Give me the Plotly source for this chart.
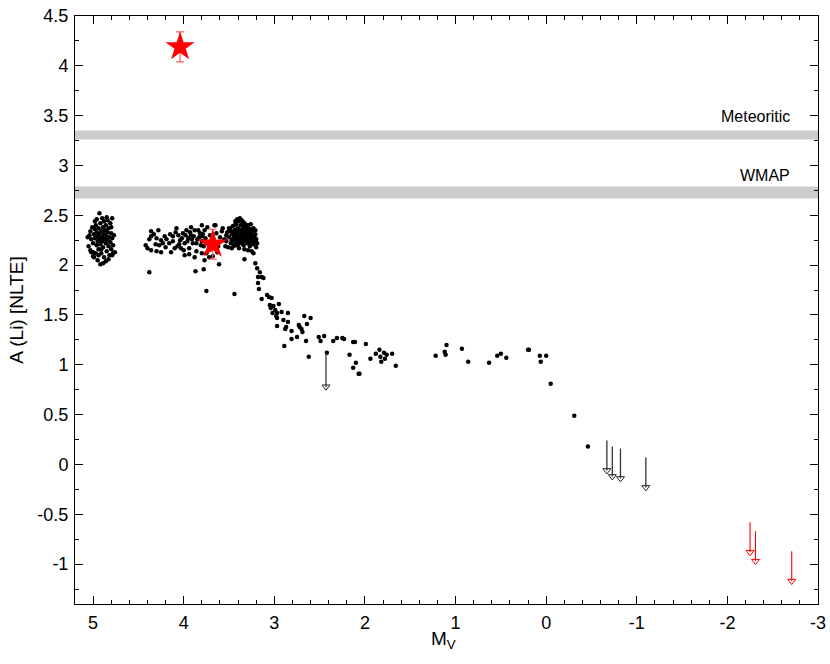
from __future__ import annotations

import plotly.graph_objects as go


# --- bands (A(Li) low/high) ---
METEORITIC_BAND = (3.26, 3.35)
WMAP_BAND = (2.67, 2.79)

# --- subgiant clump, left (M_V ~ 4.8-5.05) ---
LEFT_MV = [4.93, 4.92, 4.84, 5.00, 4.79, 4.81, 5.04, 5.02, 5.03, 5.01, 5.00, 4.99, 4.98, 4.98,
           4.97, 4.96, 4.96, 4.95, 4.95, 4.94, 4.94, 4.93, 4.93, 4.92, 4.92, 4.91, 4.91, 4.90,
           4.90, 4.89, 4.89, 4.88, 4.88, 4.87, 4.87, 4.86, 4.86, 4.85, 4.85, 4.84, 4.84, 4.83,
           4.83, 4.82, 4.82, 4.81, 4.80, 4.80, 4.79, 4.78, 4.77, 4.78, 5.05, 5.03, 4.99, 4.97,
           4.95, 4.91, 4.88, 4.86, 4.83, 4.80, 4.76, 5.06, 4.98, 4.96, 4.90, 4.85, 4.94, 4.89,
           5.02, 5.00, 4.79]
LEFT_ALI = [2.52, 2.01, 2.45, 2.13, 2.47, 2.42, 2.30, 2.26, 2.34, 2.38, 2.22, 2.31, 2.27, 2.36,
            2.40, 2.33, 2.20, 2.24, 2.29, 2.37, 2.16, 2.31, 2.26, 2.42, 2.21, 2.34, 2.12, 2.28,
            2.24, 2.38, 2.18, 2.31, 2.08, 2.26, 2.35, 2.22, 2.40, 2.29, 2.14, 2.33, 2.25, 2.19,
            2.37, 2.28, 2.10, 2.23, 2.32, 2.16, 2.27, 2.20, 2.30, 2.12, 2.19, 2.15, 2.08, 2.12,
            2.05, 2.16, 2.44, 2.04, 2.06, 2.38, 2.13, 2.28, 2.44, 2.46, 2.47, 2.48, 2.10, 2.02,
            2.13, 2.09, 2.10]

# --- plateau band (M_V ~ 3.55-4.4) ---
BAND_MV = [4.36, 4.28, 4.36, 4.30, 4.25, 4.23, 4.21, 4.40, 4.36, 4.30, 4.25, 4.16, 4.14, 4.10,
           4.08, 4.06, 4.04, 4.01, 3.99, 3.97, 3.95, 3.92, 3.90, 3.88, 3.85, 3.82, 3.81, 3.99,
           3.94, 3.88, 4.12, 4.07, 4.03, 3.94, 3.80, 3.77, 3.80, 3.78, 3.80, 3.77, 3.65, 3.58,
           3.56, 3.54, 3.53, 3.50, 3.47, 3.45, 3.42, 4.33, 4.27, 4.19, 4.15, 4.12, 4.09, 4.05,
           4.02, 3.98, 3.96, 3.93, 3.91, 3.89, 3.86, 3.84, 3.83, 3.80, 3.79, 3.76, 3.74, 3.73,
           3.71, 3.70, 3.64, 3.62, 3.60, 3.57, 3.55, 3.86, 3.75, 3.72, 4.00, 4.20, 4.31, 4.42,
           4.38, 3.92, 3.66, 3.68, 3.63]
BAND_ALI = [2.34, 2.35, 2.29, 2.27, 2.25, 2.22, 2.29, 2.17, 2.15, 2.14, 2.13, 2.22, 2.13, 2.17,
            2.37, 2.30, 2.25, 2.32, 2.22, 2.35, 2.27, 2.30, 2.22, 2.35, 2.26, 2.32, 2.20, 2.10,
            2.11, 2.08, 2.29, 2.19, 2.17, 2.17, 2.40, 2.35, 2.29, 2.19, 2.12, 2.05, 2.40, 2.34,
            2.25, 2.19, 2.30, 2.37, 2.25, 2.32, 2.20, 2.31, 2.20, 2.26, 2.31, 2.24, 2.33, 2.21,
            2.27, 2.30, 2.24, 2.33, 2.26, 2.29, 2.22, 2.35, 2.28, 2.24, 2.31, 2.27, 2.38, 2.21,
            2.30, 2.16, 2.32, 2.19, 2.28, 2.37, 2.26, 2.14, 2.12, 2.08, 2.15, 2.18, 2.21, 2.20,
            2.26, 2.38, 2.40, 2.09, 2.13]

# --- turn-off clump (M_V ~ 3.2-3.55) ---
TURN_MV = [3.53, 3.52, 3.51, 3.50, 3.49, 3.48, 3.47, 3.46, 3.46, 3.45, 3.44, 3.44, 3.43, 3.42,
           3.42, 3.41, 3.40, 3.40, 3.39, 3.39, 3.38, 3.38, 3.37, 3.37, 3.36, 3.36, 3.35, 3.35,
           3.34, 3.34, 3.33, 3.33, 3.32, 3.32, 3.31, 3.31, 3.30, 3.30, 3.29, 3.29, 3.28, 3.28,
           3.27, 3.27, 3.26, 3.26, 3.25, 3.24, 3.24, 3.23, 3.22, 3.22, 3.21, 3.20, 3.20, 3.19,
           3.41, 3.38, 3.36, 3.35, 3.43, 3.40, 3.37, 3.34, 3.32, 3.31, 3.44, 3.47, 3.39, 3.33,
           3.29, 3.25, 3.48, 3.45, 3.42, 3.39, 3.36, 3.33, 3.30, 3.27, 3.35, 3.38, 3.41, 3.44,
           3.29, 3.26, 3.23, 3.21]
TURN_ALI = [2.24, 2.33, 2.18, 2.28, 2.36, 2.22, 2.31, 2.26, 2.39, 2.19, 2.29, 2.35, 2.24, 2.32,
            2.41, 2.27, 2.21, 2.37, 2.30, 2.44, 2.25, 2.34, 2.28, 2.40, 2.22, 2.31, 2.36, 2.26,
            2.43, 2.20, 2.29, 2.33, 2.38, 2.24, 2.27, 2.31, 2.35, 2.22, 2.29, 2.40, 2.25, 2.33,
            2.19, 2.28, 2.36, 2.23, 2.30, 2.26, 2.34, 2.21, 2.29, 2.24, 2.31, 2.26, 2.18, 2.22,
            2.46, 2.47, 2.45, 2.41, 2.44, 2.34, 2.35, 2.38, 2.41, 2.36, 2.21, 2.17, 2.17, 2.16,
            2.15, 2.14, 2.34, 2.32, 2.28, 2.24, 2.27, 2.25, 2.28, 2.32, 2.30, 2.29, 2.36, 2.40,
            2.37, 2.41, 2.37, 2.35]

# --- Li dilution and giants ---
DROP_MV = [3.78, 3.75, 3.61, 3.44, 3.87, 4.38, 3.33, 3.23, 3.21, 3.19, 3.16, 3.18, 3.12, 3.18,
           3.17, 3.14, 3.08, 3.03, 3.06, 3.05, 3.04, 2.99, 2.95, 3.02, 2.97, 2.92, 2.85, 2.97,
           2.90, 2.85, 2.97, 2.87, 2.81, 2.73, 2.72, 2.70, 2.67, 2.60, 2.64, 2.69, 2.81, 2.75,
           2.65, 2.89, 2.62, 2.51, 2.49, 2.45, 2.42, 2.35, 2.31, 2.25, 2.23, 2.17, 2.13, 2.11,
           2.10, 2.13, 2.07, 2.06, 1.99, 1.94, 1.88, 1.84, 1.83, 1.82, 1.79, 1.78, 1.76, 1.70,
           1.66, 1.22, 1.12, 1.10, 1.11, 0.93, 0.86, 0.63, 0.54, 0.50, 0.44, 0.20, 0.19, 0.07,
           0.00, 0.06, -0.05, -0.31, -0.46, 3.14, 3.01, 2.98, 2.88]
DROP_ALI = [1.96, 1.74, 2.01, 1.71, 1.94, 1.93, 2.06, 2.12, 2.02, 1.97, 1.93, 1.88, 1.87, 1.82,
            1.76, 1.66, 1.70, 1.67, 1.68, 1.60, 1.57, 1.55, 1.61, 1.52, 1.52, 1.53, 1.52, 1.47,
            1.45, 1.43, 1.39, 1.38, 1.34, 1.40, 1.38, 1.36, 1.49, 1.47, 1.41, 1.33, 1.26, 1.28,
            1.24, 1.19, 1.08, 1.28, 1.24, 1.29, 1.12, 1.24, 1.27, 1.27, 1.26, 1.10, 1.23, 1.23,
            1.02, 0.97, 0.91, 0.91, 1.21, 1.06, 1.11, 1.15, 1.08, 1.03, 1.12, 1.06, 1.10, 1.11,
            0.99, 1.09, 1.13, 1.20, 1.10, 1.16, 1.03, 1.02, 1.09, 1.11, 1.07, 1.15, 1.15, 1.09,
            1.09, 1.03, 0.81, 0.49, 0.18, 1.88, 1.59, 1.49, 1.36]

# --- upper limits: start of arrow and limit value ---
BLACK_LIM_MV = [2.43, -0.67, -0.73, -0.82, -1.10]
BLACK_LIM_TOP = [1.12, 0.24, 0.18, 0.16, 0.07]
BLACK_LIM_VAL = [0.78, -0.06, -0.12, -0.14, -0.23]
RED_LIM_MV = [-2.25, -2.31, -2.71]
RED_LIM_TOP = [-0.58, -0.67, -0.87]
RED_LIM_VAL = [-0.88, -0.97, -1.17]

# --- highlighted stars ---
STAR_MV = [4.04, 3.68]
STAR_ALI = [4.19, 2.21]
STAR_ERR = [0.15, 0.15]

X_TICKS = [5, 4, 3, 2, 1, 0, -1, -2, -3]
X_LABELS = ["5", "4", "3", "2", "1", "0", "-1", "-2", "-3"]
Y_TICKS = [-1, -0.5, 0, 0.5, 1, 1.5, 2, 2.5, 3, 3.5, 4, 4.5]
Y_LABELS = ["-1", "-0.5", "0", "0.5", "1", "1.5", "2", "2.5", "3", "3.5", "4", "4.5"]

FONT = "Liberation Sans, Arial, Helvetica, sans-serif"


def _segments(xs, y0s, y1s):
    sx, sy = [], []
    for x, a, b in zip(xs, y0s, y1s):
        sx += [x, x, None]
        sy += [a, b, None]
    return sx, sy


fig = go.Figure()

for lo, hi in (METEORITIC_BAND, WMAP_BAND):
    fig.add_shape(type="rect", xref="paper", x0=0, x1=1, yref="y", y0=lo, y1=hi,
                  fillcolor="#cccccc", line_width=0, layer="below")

fig.add_annotation(x=-2.71, y=3.49, text="Meteoritic", showarrow=False, xanchor="right",
                   font=dict(size=16, color="black", family=FONT))
fig.add_annotation(x=-2.71, y=2.90, text="WMAP", showarrow=False, xanchor="right",
                   font=dict(size=16, color="black", family=FONT))
fig.add_annotation(x=0.496, xref="paper", y=-0.037, yref="paper", text="M<sub>V</sub>",
                   showarrow=False, yanchor="top",
                   font=dict(size=19, color="black", family=FONT))

for xs, ys in ((LEFT_MV, LEFT_ALI), (BAND_MV, BAND_ALI), (TURN_MV, TURN_ALI), (DROP_MV, DROP_ALI)):
    fig.add_trace(go.Scatter(x=xs, y=ys, mode="markers",
                             marker=dict(color="black", size=4.5, line_width=0)))

bx, by = _segments(BLACK_LIM_MV, BLACK_LIM_TOP, BLACK_LIM_VAL)
fig.add_trace(go.Scatter(x=bx, y=by, mode="lines", line=dict(color="#333333", width=1.3)))
fig.add_trace(go.Scatter(x=BLACK_LIM_MV, y=BLACK_LIM_VAL, mode="markers",
                         marker=dict(symbol="triangle-down-open", size=7, color="#222222",
                                     line=dict(width=1))))

rx, ry = _segments(RED_LIM_MV, RED_LIM_TOP, RED_LIM_VAL)
fig.add_trace(go.Scatter(x=rx, y=ry, mode="lines", line=dict(color="red", width=1.1)))
fig.add_trace(go.Scatter(x=RED_LIM_MV, y=RED_LIM_VAL, mode="markers",
                         marker=dict(symbol="triangle-down-open", size=7, color="red",
                                     line=dict(width=1))))

fig.add_trace(go.Scatter(
    x=STAR_MV, y=STAR_ALI, mode="markers",
    marker=dict(symbol="star", size=22, color="red", line_width=0),
    error_y=dict(type="data", array=STAR_ERR, color="#ff5a5a", thickness=1.2, width=4),
))

axis_common = dict(
    showgrid=False, zeroline=False, showline=True, linecolor="black", linewidth=1,
    mirror="allticks", ticks="inside", ticklen=8, tickcolor="black", tickwidth=1,
    tickfont=dict(size=18, color="black", family=FONT), automargin=False,
    ticklabeloverflow="allow", ticklabelstandoff=2,
)

fig.update_xaxes(
    range=[5.2, -3], tickvals=X_TICKS, ticktext=X_LABELS,
    minor=dict(dtick=0.2, ticks="inside", ticklen=4, tickcolor="black"),
    **axis_common,
)
fig.update_yaxes(
    range=[-1.4, 4.5], tickvals=Y_TICKS, ticktext=Y_LABELS,
    minor=dict(dtick=0.25, ticks="inside", ticklen=4, tickcolor="black"),
    title=dict(text="A (Li) [NLTE]", font=dict(size=19, color="black", family=FONT), standoff=8),
    **axis_common,
)

fig.update_layout(
    width=830, height=664, showlegend=False,
    paper_bgcolor="white", plot_bgcolor="white",
    margin=dict(l=75, r=12, t=16, b=60),
    font=dict(family=FONT, color="black"),
)

# drop the browser's default body margin so the figure sits at the window corner
fig.write_html("out.html", config={"displayModeBar": False},
               post_script="document.body.style.margin = '0px';")
